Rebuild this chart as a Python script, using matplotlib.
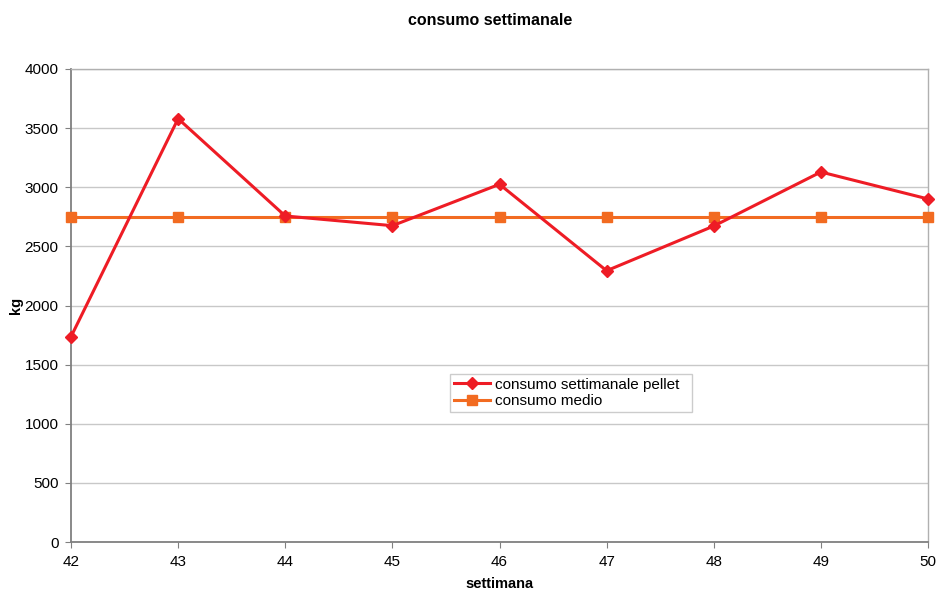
import matplotlib.pyplot as plt

plt.rcParams['font.family'] = ['Liberation Sans', 'DejaVu Sans']

# weekly pellet consumption
settimane = [42, 43, 44, 45, 46, 47, 48, 49, 50]
consumo_pellet = [1736, 3580, 2757, 2675, 3025, 2294, 2672, 3129, 2901]
consumo_medio = [2752] * len(settimane)
y_ticks = [0, 500, 1000, 1500, 2000, 2500, 3000, 3500, 4000]

fig = plt.figure(figsize=(9.36, 5.93), dpi=100)
ax = fig.add_axes([71 / 936, 1 - 542 / 593, (928 - 71) / 936, (542 - 69) / 593])

ax.plot(settimane, consumo_pellet, color='#ee1c25', lw=2.2, marker='D',
        ms=6.5, label='consumo settimanale pellet', clip_on=False, zorder=4)
ax.plot(settimane, consumo_medio, color='#f26b21', lw=2.2, marker='s',
        ms=7.5, label='consumo medio', clip_on=False, zorder=3)

ax.set_xlim(42, 50)
ax.set_ylim(0, 4000)
ax.set_xticks(settimane)
ax.set_yticks(y_ticks)
ax.grid(axis='y', color='#c8c8c8', lw=1)
ax.set_axisbelow(True)
for side in ['left', 'bottom']:
    ax.spines[side].set_color('#808080')
    ax.spines[side].set_linewidth(1.3)
for side in ['top', 'right']:
    ax.spines[side].set_color('#b0b0b0')
    ax.spines[side].set_linewidth(1)
ax.tick_params(axis='both', labelsize=11, color='#808080', length=4,
               direction='out', pad=5)

ax.set_xlabel('settimana', fontsize=10.5, fontweight='bold')
ax.xaxis.set_label_coords(0.5, -0.075)
ax.set_ylabel('kg', fontsize=10.5, fontweight='bold')
ax.yaxis.set_label_coords(-0.056, 0.5)
fig.text(0.524, 0.965, 'consumo settimanale', ha='center', va='center',
         fontsize=11.5, fontweight='bold')

leg = ax.legend(loc='upper left', bbox_to_anchor=((450 - 71) / 857, (542 - 374) / 473),
                fontsize=11, frameon=True, fancybox=False, edgecolor='#c0c0c0',
                borderpad=0.25, labelspacing=0.15, handlelength=2.4, handletextpad=0.3,
                borderaxespad=0)
leg.get_frame().set_linewidth(1)
# a little extra room on the right of the legend labels
for t in leg.get_texts():
    t.set_text(t.get_text() + '  ')

fig.savefig('out.png', dpi=100, facecolor='white')
